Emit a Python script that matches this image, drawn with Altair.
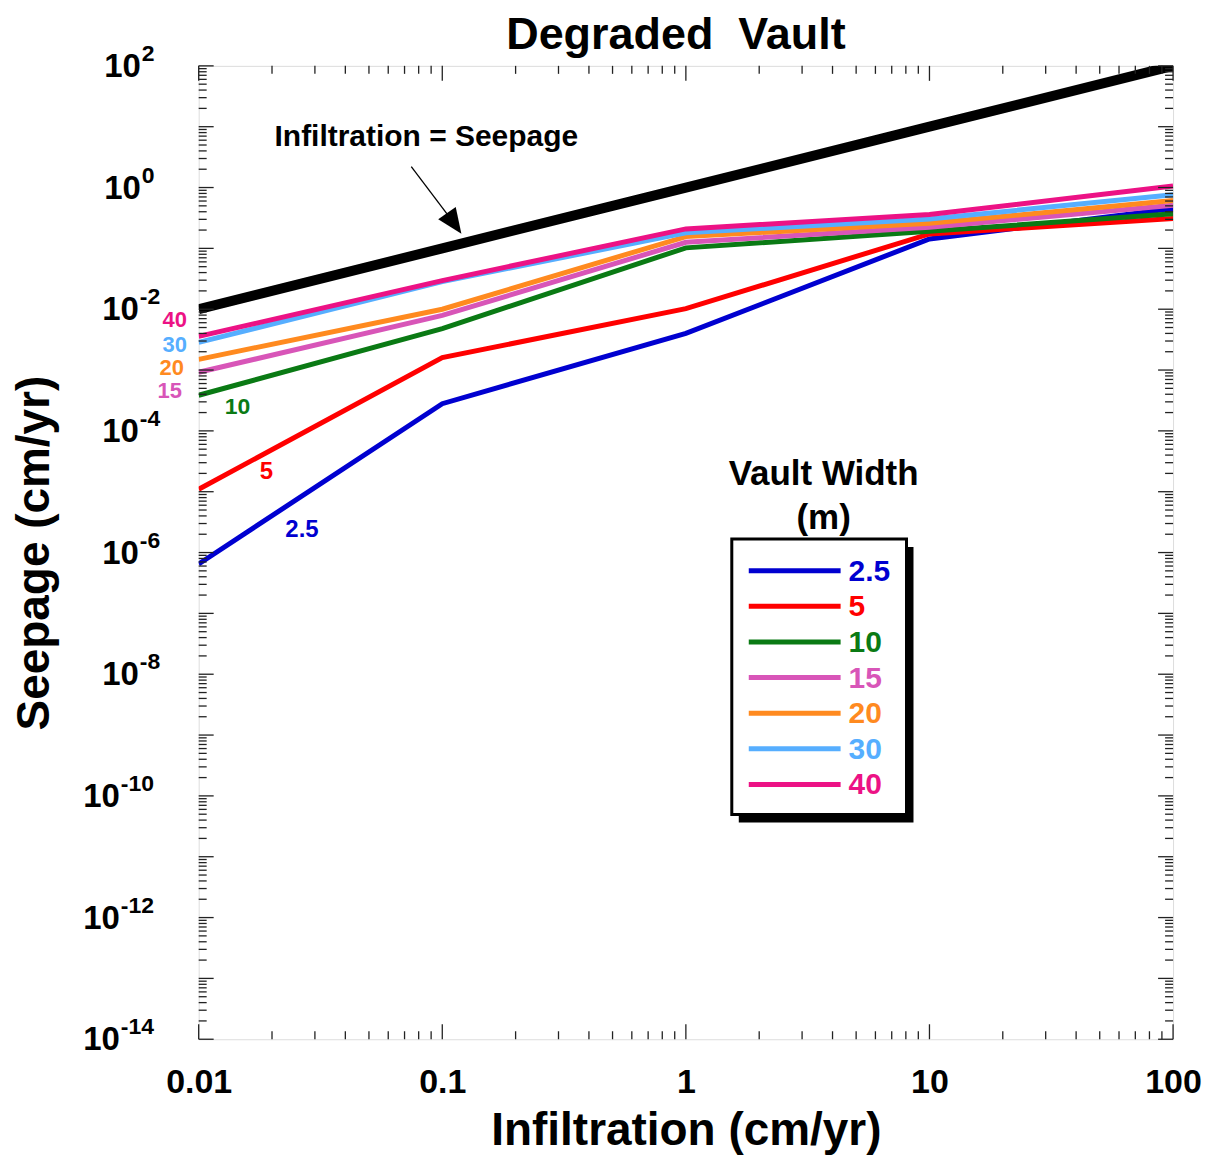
import altair as alt
import pandas as pd

# ---------------- data ----------------
infiltration = [0.01, 0.1, 1, 10, 100]
widths = ["2.5", "5", "10", "15", "20", "30", "40"]
seepage = {
    "2.5": [6.5e-7, 2.8e-4, 4.0e-3, 0.143, 0.45],
    "5":   [1.1e-5, 1.6e-3, 1.02e-2, 0.173, 0.31],
    "10":  [3.85e-4, 4.8e-3, 0.102, 0.191, 0.37],
    "15":  [9.2e-4, 7.9e-3, 0.126, 0.222, 0.51],
    "20":  [1.5e-3, 1.0e-2, 0.156, 0.258, 0.61],
    "30":  [2.85e-3, 2.85e-2, 0.18, 0.305, 0.76],
    "40":  [3.57e-3, 2.95e-2, 0.209, 0.359, 1.06],
}
one_to_one = [0.01, 0.1, 1, 10, 100]
colors = ["#0000D0", "#FF0000", "#0A7A14", "#D855B8", "#FF8A1F", "#56AEFF", "#EC1285"]

# series label anchor points (data coordinates)
label_x = [0.02655, 0.01895, 0.01445, 0.0076, 0.00775, 0.00797, 0.00797]
label_y = [2.34e-6, 2.096e-5, 2.44e-4, 4.47e-4, 1.066e-3, 2.543e-3, 6.54e-3]
label_size = [24, 24, 23, 22, 22, 22, 22]

# annotation (data coordinates)
annot_text = "Infiltration = Seepage"
annot_xy = [0.086, 6.84]
arrow_from = [0.0746, 2.20]
arrow_head = [0.1119, 0.2574]

x_major = [0.01, 0.1, 1, 10, 100]
x_minor = [k * 10.0 ** e for e in range(-2, 2) for k in range(2, 10)]
y_exps = list(range(-14, 3))
y_major = [10.0 ** e for e in y_exps]
y_minor = [k * 10.0 ** e for e in range(-14, 2) for k in range(2, 10)]
y_label_exps = [2, 0, -2, -4, -6, -8, -10, -12, -14]

FONT = "Liberation Sans"
W, H = 976, 975

xscale = alt.Scale(type="log", domain=[0.01, 100], nice=False)
yscale = alt.Scale(type="log", domain=[1e-14, 1e2], nice=False)
xaxis = alt.Axis(title="Infiltration (cm/yr)", values=x_major, format="~g",
                 labelFont=FONT, labelFontSize=34, labelFontWeight="bold",
                 labelColor="black", ticks=False, tickSize=0, domain=False,
                 grid=False, labelPadding=26, labelFlush=False, labelOverlap=False,
                 titleFont=FONT, titleFontSize=46, titleFontWeight="bold",
                 titleColor="black", titlePadding=9)
yaxis = alt.Axis(title="Seepage (cm/yr)", labels=False, ticks=False, tickSize=0,
                 domain=False, grid=False, titleFont=FONT, titleFontSize=46,
                 titleFontWeight="bold", titleColor="black", titlePadding=140)


def X(f="x"):
    return alt.X(f"{f}:Q", scale=xscale, axis=xaxis)


def Y(f="y"):
    return alt.Y(f"{f}:Q", scale=yscale, axis=yaxis)


one = pd.DataFrame({"d": [0]})
layers = []

# series lines
for w, c in zip(widths, colors):
    df = pd.DataFrame({"x": infiltration, "y": seepage[w]})
    layers.append(alt.Chart(df).mark_line(color=c, strokeWidth=5, clip=True)
                  .encode(x=X(), y=Y()))

# infiltration = seepage line
df1 = pd.DataFrame({"x": infiltration, "y": one_to_one})
layers.append(alt.Chart(df1).mark_line(color="black", strokeWidth=10, clip=True)
              .encode(x=X(), y=Y()))

# inward ticks on all four sides
TC, TW = "#222222", 1.3
for vals, ln in [(x_major, 15), (x_minor, 8)]:
    d = pd.DataFrame({"x": vals})
    layers.append(alt.Chart(d).mark_rule(color=TC, strokeWidth=TW)
                  .encode(x=X(), y=alt.value(H), y2=alt.value(H - ln)))
    layers.append(alt.Chart(d).mark_rule(color=TC, strokeWidth=TW)
                  .encode(x=X(), y=alt.value(0), y2=alt.value(ln)))
for vals, ln in [(y_major, 15), (y_minor, 8)]:
    d = pd.DataFrame({"y": vals})
    layers.append(alt.Chart(d).mark_rule(color=TC, strokeWidth=TW)
                  .encode(y=Y(), x=alt.value(0), x2=alt.value(ln)))
    layers.append(alt.Chart(d).mark_rule(color=TC, strokeWidth=TW)
                  .encode(y=Y(), x=alt.value(W), x2=alt.value(W - ln)))

# y tick labels: "10" with a raised exponent
ten_right = {1: -58, 2: -60, 3: -79}
for n in (1, 2, 3):
    es = [e for e in y_label_exps if len(str(e)) == n]
    d = pd.DataFrame({"y": [10.0 ** e for e in es], "b": ["10"] * len(es),
                      "e": [str(e) for e in es]})
    layers.append(alt.Chart(d).mark_text(font=FONT, fontSize=33, fontWeight="bold",
                                         color="black", align="right",
                                         baseline="middle", dy=1)
                  .encode(y=Y(), x=alt.value(ten_right[n]), text="b:N"))
    layers.append(alt.Chart(d).mark_text(font=FONT, fontSize=23, fontWeight="bold",
                                         color="black", align="left",
                                         baseline="middle", dy=-12)
                  .encode(y=Y(), x=alt.value(ten_right[n] + 1), text="e:N"))

# series labels near the left ends
for w, c, lx, ly, fs in zip(widths, colors, label_x, label_y, label_size):
    d = pd.DataFrame({"x": [lx], "y": [ly], "t": [w]})
    layers.append(alt.Chart(d).mark_text(font=FONT, fontSize=fs, fontWeight="bold",
                                         color=c, align="center", baseline="middle")
                  .encode(x=X(), y=Y(), text="t:N"))

# annotation with arrow
d = pd.DataFrame({"x": [annot_xy[0]], "y": [annot_xy[1]], "t": [annot_text]})
layers.append(alt.Chart(d).mark_text(font=FONT, fontSize=30, fontWeight="bold",
                                     color="black", align="center", baseline="middle")
              .encode(x=X(), y=Y(), text="t:N"))
d = pd.DataFrame({"x": [arrow_from[0]], "y": [arrow_from[1]],
                  "x2": [arrow_head[0]], "y2": [arrow_head[1]]})
layers.append(alt.Chart(d).mark_rule(color="black", strokeWidth=1.3)
              .encode(x=X(), y=Y(), x2="x2:Q", y2="y2:Q"))
d = pd.DataFrame({"x": [arrow_head[0]], "y": [arrow_head[1]]})
layers.append(alt.Chart(d).mark_point(shape="M0,-1L-0.85,1L0.85,1Z", size=635,
                                      angle=145, filled=True, color="black",
                                      opacity=1, strokeWidth=0)
              .encode(x=X(), y=Y()))

# legend (drawn inside the plot)
BX0, BX1, BY0, BY1 = 534, 709, 474, 750
layers.append(alt.Chart(one).mark_rect(color="black")
              .encode(x=alt.value(BX0 + 7), x2=alt.value(BX1 + 7),
                      y=alt.value(BY0 + 8), y2=alt.value(BY1 + 8)))
layers.append(alt.Chart(one).mark_rect(fill="white", stroke="black", strokeWidth=3)
              .encode(x=alt.value(BX0), x2=alt.value(BX1),
                      y=alt.value(BY0), y2=alt.value(BY1)))
for txt, yy in [("Vault Width", 409), ("(m)", 453)]:
    layers.append(alt.Chart(one).mark_text(text=txt, font=FONT, fontSize=35,
                                           fontWeight="bold", color="black",
                                           align="center", baseline="middle")
                  .encode(x=alt.value(626), y=alt.value(yy)))
ROW0, DY = 505.7, 35.67
for i, (w, c) in enumerate(zip(widths, colors)):
    yy = ROW0 + i * DY
    layers.append(alt.Chart(one).mark_rule(color=c, strokeWidth=5)
                  .encode(x=alt.value(551), x2=alt.value(643), y=alt.value(yy)))
    layers.append(alt.Chart(one).mark_text(text=w, font=FONT, fontSize=30,
                                           fontWeight="bold", color=c,
                                           align="left", baseline="middle")
                  .encode(x=alt.value(651), y=alt.value(yy + 1)))

# chart title
layers.append(alt.Chart(one).mark_text(text="Degraded\u00a0 Vault", font=FONT,
                                       fontSize=45, fontWeight="bold", color="black",
                                       align="center", baseline="alphabetic")
              .encode(x=alt.value(478), y=alt.value(-17)))

chart = alt.layer(*layers).properties(
    width=W, height=H,
    padding={"left": 191, "top": 57, "right": 34, "bottom": 118},
    autosize=alt.AutoSizeParams(type="none"),
).configure_view(stroke="#555555", strokeWidth=2).configure(background="white")

chart.save("out.html", embed_options={"renderer": "svg", "actions": False})
